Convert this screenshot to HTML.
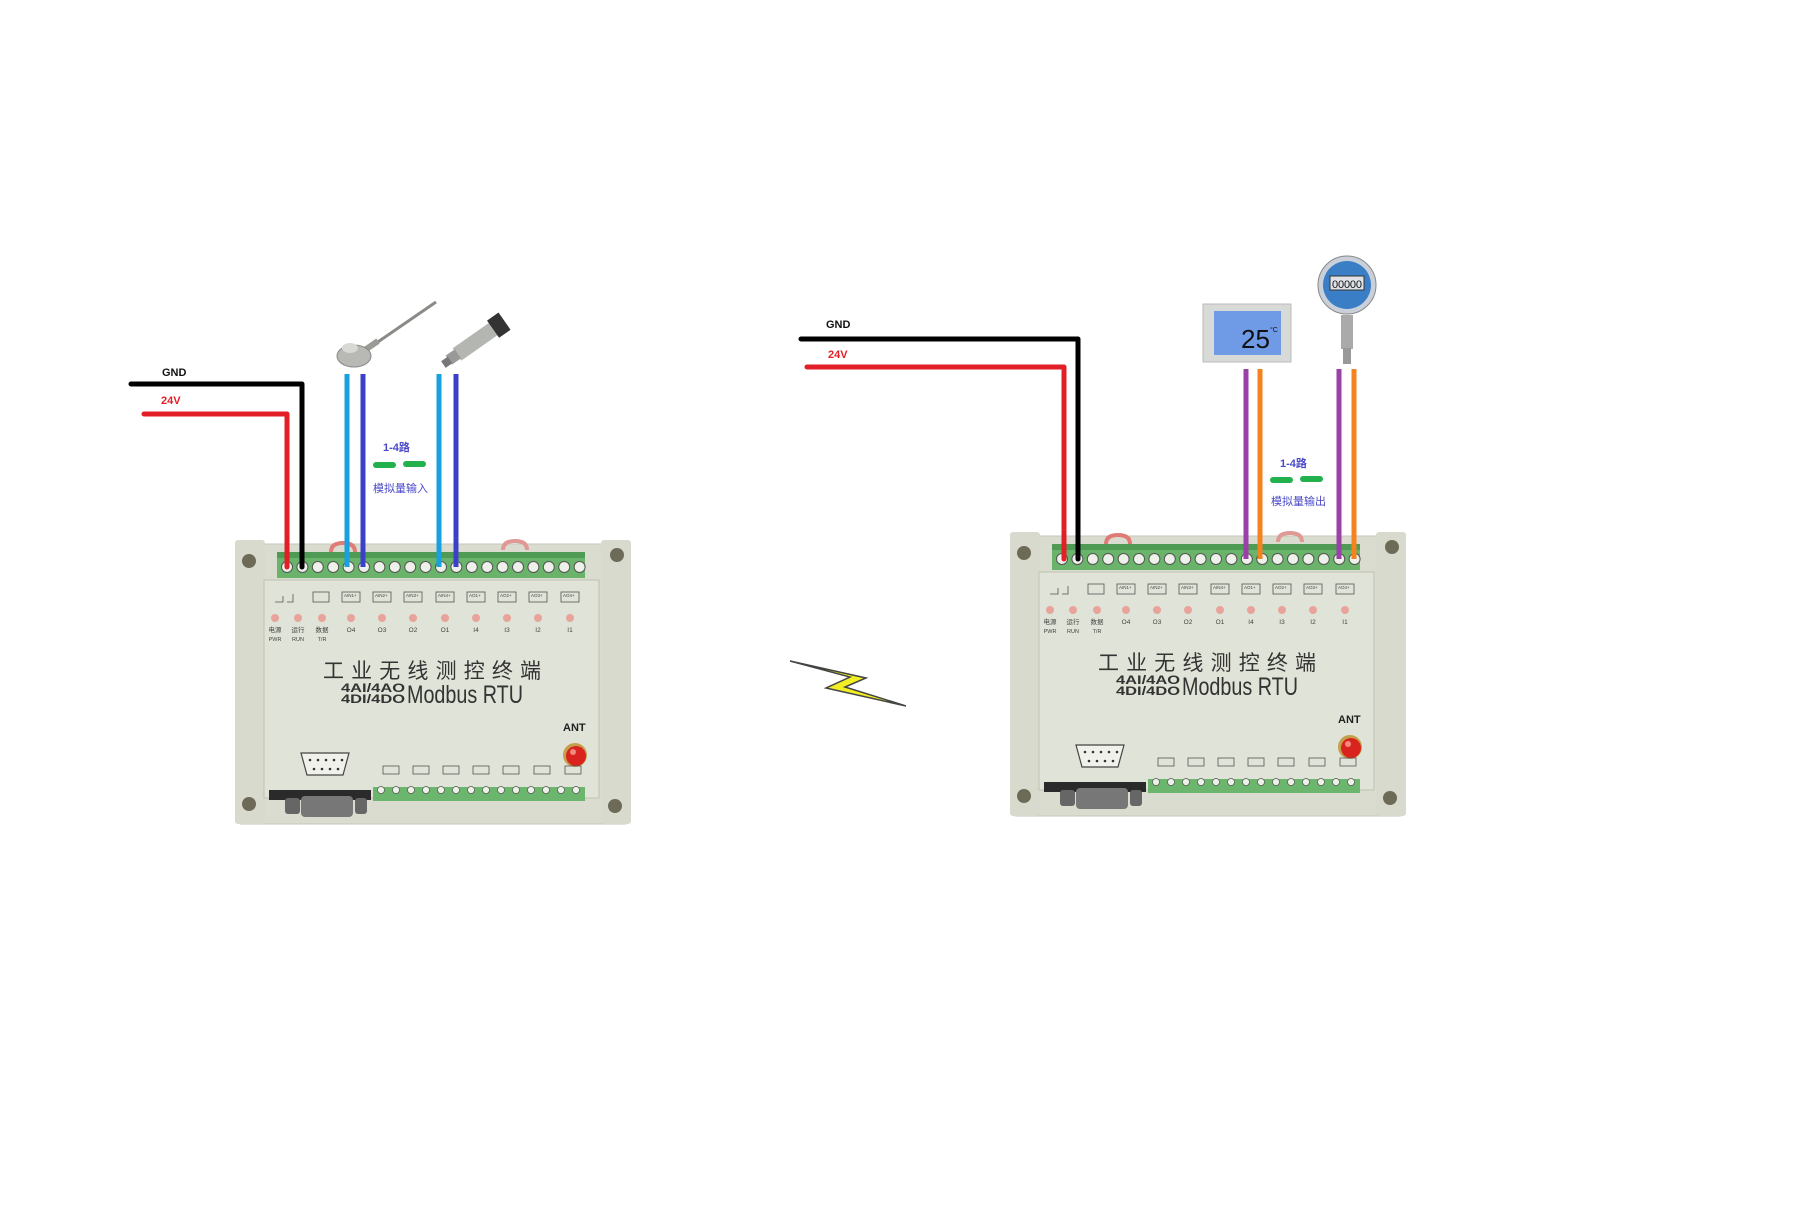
<!DOCTYPE html>
<html><head><meta charset="utf-8"><style>
html,body{margin:0;padding:0;background:#fff;}
svg{display:block;}
text{font-family:"Liberation Sans","Noto Sans CJK SC",sans-serif;}
</style></head><body>
<svg width="1800" height="1217" viewBox="0 0 1800 1217" xmlns="http://www.w3.org/2000/svg">
<defs>
<g id="dev">
  <rect x="2" y="4" width="392" height="280" rx="4" fill="#dadccf" stroke="#c4c7b8"/>
  <rect x="0" y="0" width="30" height="284" rx="3" fill="#d8dacd"/>
  <rect x="366" y="0" width="30" height="284" rx="3" fill="#d8dacd"/>
  <circle cx="14" cy="21" r="7" fill="#6e6a58"/>
  <circle cx="382" cy="15" r="7" fill="#6e6a58"/>
  <circle cx="14" cy="264" r="7" fill="#6e6a58"/>
  <circle cx="380" cy="266" r="7" fill="#6e6a58"/>
  <path d="M96 12 q0-9 12-9 q12 0 12 9" fill="none" stroke="#e07c78" stroke-width="4"/>
  <path d="M268 10 q0-9 12-9 q12 0 12 9" fill="none" stroke="#e09a96" stroke-width="4"/>
  <rect x="42" y="12" width="308" height="26" fill="#69b36b"/>
  <rect x="42" y="12" width="308" height="6" fill="#4f9a54"/>
  <g fill="#eef0ea" stroke="#555" stroke-width="1">
    <circle cx="52" cy="27" r="5.5"/><circle cx="67.4" cy="27" r="5.5"/><circle cx="82.8" cy="27" r="5.5"/><circle cx="98.2" cy="27" r="5.5"/>
    <circle cx="113.6" cy="27" r="5.5"/><circle cx="129" cy="27" r="5.5"/><circle cx="144.4" cy="27" r="5.5"/><circle cx="159.8" cy="27" r="5.5"/>
    <circle cx="175.2" cy="27" r="5.5"/><circle cx="190.6" cy="27" r="5.5"/><circle cx="206" cy="27" r="5.5"/><circle cx="221.4" cy="27" r="5.5"/>
    <circle cx="236.8" cy="27" r="5.5"/><circle cx="252.2" cy="27" r="5.5"/><circle cx="267.6" cy="27" r="5.5"/><circle cx="283" cy="27" r="5.5"/>
    <circle cx="298.4" cy="27" r="5.5"/><circle cx="313.8" cy="27" r="5.5"/><circle cx="329.2" cy="27" r="5.5"/><circle cx="344.6" cy="27" r="5.5"/>
  </g>
  <rect x="29" y="40" width="335" height="218" fill="#e0e3d7" stroke="#bfc2b2"/>
  <g fill="none" stroke="#555" stroke-width="0.8">
    <rect x="78" y="52" width="16" height="10"/>
    <rect x="107" y="52" width="18" height="10"/><rect x="138" y="52" width="18" height="10"/><rect x="169" y="52" width="18" height="10"/><rect x="201" y="52" width="18" height="10"/>
    <rect x="232" y="52" width="18" height="10"/><rect x="263" y="52" width="18" height="10"/><rect x="294" y="52" width="18" height="10"/><rect x="326" y="52" width="18" height="10"/>
    <path d="M40 62 h8 v-6 M52 62 h6 v-8"/>
  </g>
  <g font-size="4.5" fill="#444">
    <text x="109" y="57">AIN1+</text><text x="140" y="57">AIN2+</text><text x="171" y="57">AIN3+</text><text x="203" y="57">AIN4+</text>
    <text x="234" y="57">AO1+</text><text x="265" y="57">AO2+</text><text x="296" y="57">AO3+</text><text x="328" y="57">AO4+</text>
  </g>
  <g fill="#e8a39a">
    <circle cx="40" cy="78" r="4"/><circle cx="63" cy="78" r="4"/><circle cx="87" cy="78" r="4"/><circle cx="116" cy="78" r="4"/>
    <circle cx="147" cy="78" r="4"/><circle cx="178" cy="78" r="4"/><circle cx="210" cy="78" r="4"/><circle cx="241" cy="78" r="4"/>
    <circle cx="272" cy="78" r="4"/><circle cx="303" cy="78" r="4"/><circle cx="335" cy="78" r="4"/>
  </g>
  <g font-size="6.5" fill="#444" text-anchor="middle">
    <text x="40" y="92">电源</text><text x="63" y="92">运行</text><text x="87" y="92">数据</text>
    <text x="116" y="92">O4</text><text x="147" y="92">O3</text><text x="178" y="92">O2</text><text x="210" y="92">O1</text>
    <text x="241" y="92">I4</text><text x="272" y="92">I3</text><text x="303" y="92">I2</text><text x="335" y="92">I1</text>
    <text x="40" y="101" font-size="5.5">PWR</text><text x="63" y="101" font-size="5.5">RUN</text><text x="87" y="101" font-size="5.5">T/R</text>
  </g>
  <text x="88" y="138" font-size="21" fill="#333" textLength="218" lengthAdjust="spacing">工业无线测控终端</text>
  <text x="106" y="152" font-size="12" font-weight="bold" fill="#333" textLength="64" lengthAdjust="spacingAndGlyphs">4AI/4AO</text>
  <text x="106" y="163" font-size="12" font-weight="bold" fill="#333" textLength="64" lengthAdjust="spacingAndGlyphs">4DI/4DO</text>
  <text x="172" y="163" font-size="25" fill="#333" textLength="116" lengthAdjust="spacingAndGlyphs">Modbus RTU</text>
  <text x="328" y="191" font-size="11" font-weight="bold" fill="#222">ANT</text>
  <circle cx="340" cy="215" r="12" fill="#c5a04a"/>
  <circle cx="341" cy="216" r="10" fill="#d8231e"/>
  <circle cx="338" cy="212" r="3" fill="#f28a80"/>
  <path d="M66 213 h48 l-6 22 h-36 z" fill="#f0f1ea" stroke="#444" stroke-width="1.2"/>
  <g fill="#333"><circle cx="75" cy="220" r="1.3"/><circle cx="83" cy="220" r="1.3"/><circle cx="91" cy="220" r="1.3"/><circle cx="99" cy="220" r="1.3"/><circle cx="107" cy="220" r="1.3"/>
  <circle cx="79" cy="229" r="1.3"/><circle cx="87" cy="229" r="1.3"/><circle cx="95" cy="229" r="1.3"/><circle cx="103" cy="229" r="1.3"/></g>
  <g fill="none" stroke="#555" stroke-width="0.8">
    <rect x="148" y="226" width="16" height="8"/><rect x="178" y="226" width="16" height="8"/><rect x="208" y="226" width="16" height="8"/>
    <rect x="238" y="226" width="16" height="8"/><rect x="268" y="226" width="16" height="8"/><rect x="299" y="226" width="16" height="8"/><rect x="330" y="226" width="16" height="8"/>
  </g>
  <rect x="138" y="247" width="212" height="14" fill="#6bb56d"/>
  <g fill="#eef0ea" stroke="#555" stroke-width="0.7">
    <circle cx="146" cy="250" r="3.5"/><circle cx="161" cy="250" r="3.5"/><circle cx="176" cy="250" r="3.5"/><circle cx="191" cy="250" r="3.5"/><circle cx="206" cy="250" r="3.5"/><circle cx="221" cy="250" r="3.5"/><circle cx="236" cy="250" r="3.5"/><circle cx="251" cy="250" r="3.5"/><circle cx="266" cy="250" r="3.5"/><circle cx="281" cy="250" r="3.5"/><circle cx="296" cy="250" r="3.5"/><circle cx="311" cy="250" r="3.5"/><circle cx="326" cy="250" r="3.5"/><circle cx="341" cy="250" r="3.5"/>
  </g>
  <rect x="34" y="250" width="102" height="10" fill="#2a2a2a"/>
  <rect x="50" y="258" width="15" height="16" rx="3" fill="#666"/>
  <rect x="66" y="256" width="52" height="21" rx="4" fill="#777"/>
  <rect x="120" y="258" width="12" height="16" rx="3" fill="#666"/>
</g>
</defs>

<use href="#dev" x="235" y="540"/>
<g fill="none" stroke-width="5" stroke-linecap="round" stroke-linejoin="round">
  <path d="M131 384 H302 V567" stroke="#000"/>
  <path d="M144 414 H287 V567" stroke="#e21e26"/>
  <path d="M347 374 V567" stroke="#18a0e0" stroke-linecap="butt"/>
  <path d="M363 374 V567" stroke="#3b40c8" stroke-linecap="butt"/>
  <path d="M439 374 V567" stroke="#18a0e0" stroke-linecap="butt"/>
  <path d="M456 374 V567" stroke="#3b40c8" stroke-linecap="butt"/>
</g>
<text x="162" y="376" font-size="11" font-weight="bold" fill="#111">GND</text>
<text x="161" y="404" font-size="11" font-weight="bold" fill="#e21e26">24V</text>
<text x="383" y="451" font-size="11" font-weight="bold" fill="#4a49c8">1-4路</text>
<rect x="373" y="462" width="23" height="6" rx="3" fill="#23b14d"/>
<rect x="403" y="461" width="23" height="6" rx="3" fill="#23b14d"/>
<text x="373" y="492" font-size="11" fill="#4a49c8">模拟量输入</text>
<line x1="372" y1="346" x2="436" y2="302" stroke="#8a8a86" stroke-width="3"/>
<line x1="362" y1="352" x2="378" y2="341" stroke="#9a9a96" stroke-width="6"/>
<ellipse cx="354" cy="356" rx="17" ry="11" fill="#b8b8b4" stroke="#888"/>
<ellipse cx="350" cy="348" rx="8" ry="5" fill="#d8d8d4"/>
<g transform="rotate(-35 475 340)">
  <rect x="452" y="334" width="46" height="15" fill="#b4b6b2"/>
  <rect x="496" y="331" width="14" height="21" fill="#333"/>
  <rect x="442" y="336" width="11" height="11" fill="#999"/>
  <rect x="435" y="338" width="8" height="8" fill="#777"/>
</g>

<use href="#dev" x="1010" y="532"/>
<g fill="none" stroke-width="5" stroke-linecap="round" stroke-linejoin="round">
  <path d="M801 339 H1078 V559" stroke="#000"/>
  <path d="M807 367 H1064 V559" stroke="#e21e26"/>
  <path d="M1246 369 V559" stroke="#9b40a8" stroke-linecap="butt"/>
  <path d="M1260 369 V559" stroke="#f5821f" stroke-linecap="butt"/>
  <path d="M1339 369 V559" stroke="#9b40a8" stroke-linecap="butt"/>
  <path d="M1354 369 V559" stroke="#f5821f" stroke-linecap="butt"/>
</g>
<text x="826" y="328" font-size="11" font-weight="bold" fill="#111">GND</text>
<text x="828" y="358" font-size="11" font-weight="bold" fill="#e21e26">24V</text>
<text x="1280" y="467" font-size="11" font-weight="bold" fill="#4a49c8">1-4路</text>
<rect x="1270" y="477" width="23" height="6" rx="3" fill="#23b14d"/>
<rect x="1300" y="476" width="23" height="6" rx="3" fill="#23b14d"/>
<text x="1271" y="505" font-size="11" fill="#4a49c8">模拟量输出</text>
<rect x="1203" y="304" width="88" height="58" fill="#d8dad8" stroke="#bbb"/>
<rect x="1214" y="311" width="67" height="44" fill="#6f9be6"/>
<text x="1241" y="348" font-size="26" fill="#111">25</text>
<text x="1270" y="332" font-size="7" fill="#111">°C</text>
<rect x="1341" y="315" width="12" height="34" fill="#aaa"/>
<rect x="1343" y="348" width="8" height="16" fill="#999"/>
<circle cx="1347" cy="285" r="29" fill="#c9d0da" stroke="#888"/>
<circle cx="1347" cy="285" r="24" fill="#3a7fc6"/>
<rect x="1330" y="276" width="34" height="14" fill="#dfe3e8" stroke="#333"/>
<text x="1332" y="288" font-size="11" fill="#111" textLength="30">00000</text>

<path d="M790 661 L850 677 L826 688 L906 706 L845 687 L866 678 L790 661 Z" fill="#f1ee25" stroke="#444" stroke-width="1.5"/>
</svg>
</body></html>
